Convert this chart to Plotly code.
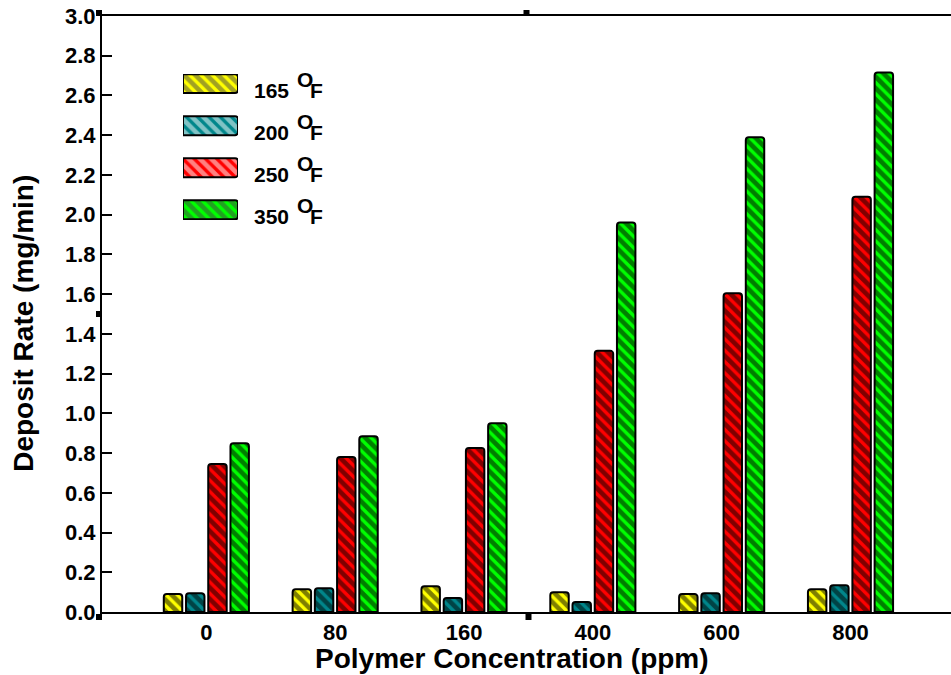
import plotly.graph_objects as go

# ---------------- data ----------------
categories = ["0", "80", "160", "400", "600", "800"]
temps = ["165", "200", "250", "350"]
rate_165 = [0.09, 0.115, 0.13, 0.10, 0.09, 0.115]
rate_200 = [0.095, 0.12, 0.07, 0.05, 0.095, 0.135]
rate_250 = [0.745, 0.78, 0.825, 1.315, 1.605, 2.09]
rate_350 = [0.85, 0.885, 0.95, 1.96, 2.39, 2.715]
series = [rate_165, rate_200, rate_250, rate_350]
colors = ["#FFFF00", "#00868B", "#FF0000", "#00FF00"]
y_ticks = [0.0, 0.2, 0.4, 0.6, 0.8, 1.0, 1.2, 1.4, 1.6, 1.8, 2.0, 2.2, 2.4, 2.6, 2.8, 3.0]
legend_pos = [0, 1, 2, 3]
x_title = "Polymer Concentration (ppm)"
y_title = "Deposit Rate (mg/min)"

FONT = "Liberation Sans, Arial, sans-serif"

fig = go.Figure()
for name, vals, col in zip(temps, series, colors):
    fig.add_trace(go.Bar(
        x=categories, y=vals, name=name + " °F",
        marker=dict(color=col, line=dict(color="black", width=2),
                    pattern=dict(shape="\\", fgcolor="black", bgcolor=col,
                                 size=8, solidity=0.58)),
        showlegend=False,
    ))

# custom legend swatches (wide patterned rectangles)
fig.add_trace(go.Bar(
    x=[1] * len(legend_pos), y=legend_pos, orientation="h", width=0.45,
    marker=dict(color=colors, line=dict(color="black", width=2),
                pattern=dict(shape="\\", fgcolor="black", bgcolor=colors,
                             size=8, solidity=0.58)),
    xaxis="x2", yaxis="y2", showlegend=False, hoverinfo="skip",
))

LF = dict(family=FONT, size=21, color="black", weight="bold")
TF = dict(family=FONT, size=28, color="black", weight="bold")
annotations = []
for i, t in zip(legend_pos, temps):
    base = dict(x=1.25, xref="x2 domain", y=i, yref="y2", showarrow=False,
                xanchor="left", yanchor="middle", font=LF)
    annotations.append(dict(base, text=t, xshift=0, yshift=-7))
    annotations.append(dict(base, text="O", xshift=43, yshift=4))
    annotations.append(dict(base, text="F", xshift=56, yshift=-7))

# axis titles
annotations.append(dict(text=x_title, xref="paper", yref="paper",
                        x=(512 - 102) / 849, y=-(659 - 612.3) / 596.3,
                        xanchor="center", yanchor="middle", showarrow=False, font=TF))
annotations.append(dict(text=y_title, xref="paper", yref="paper", textangle=-90,
                        x=-(102 - 24) / 849, y=(612.3 - 324) / 596.3,
                        xanchor="center", yanchor="middle", showarrow=False, font=TF))

# small square handles
def sq(xa, ya, x0, x1, y0, y1):
    return dict(type="rect", xref="paper", yref="paper", xsizemode="pixel",
                ysizemode="pixel", xanchor=xa, yanchor=ya, x0=x0, x1=x1,
                y0=y0, y1=y1, fillcolor="black", line=dict(width=0))

shapes = [
    sq(0, 0, -6, 0, -8, -2),
    sq(0, 1, -6, 0, 0, 6),
    sq(0, 0.5, -6, 0, -3, 3),
    sq(0.5, 1, -3, 3, 0, 6),
    sq(0.5, 0, -1, 5, -8, -1),
]

fig.update_layout(
    width=951, height=675,
    margin=dict(l=102, r=0, t=16, b=63),
    paper_bgcolor="white", plot_bgcolor="white",
    font=dict(family=FONT, color="black", weight="bold"),
    barmode="group", bargap=0.31, bargroupgap=0.17, barcornerradius=3,
    showlegend=False,
    annotations=annotations,
    shapes=shapes,
    xaxis=dict(
        type="category", range=[-0.81, 5.78],
        showline=True, linecolor="black", linewidth=2, mirror=True,
        ticks="", showgrid=False, zeroline=False,
        tickfont=dict(family=FONT, size=22, color="black", weight="bold"),
    ),
    yaxis=dict(
        range=[0, 3.0], tickvals=y_ticks, tickformat=".1f",
        showline=True, linecolor="black", linewidth=2,
        ticks="inside", ticklen=10, tickwidth=2, tickcolor="black",
        showgrid=False, zeroline=False,
        tickfont=dict(family=FONT, size=22, color="black", weight="bold"),
    ),
    xaxis2=dict(domain=[(183 - 102) / 849, (238 - 102) / 849], range=[0, 1],
                visible=False, anchor="y2", fixedrange=True),
    yaxis2=dict(domain=[(612.3 - 220) / 596.3, (612.3 - 74) / 596.3],
                range=[3.24, -0.23], visible=False, anchor="x2", fixedrange=True),
)

fig.write_html("out.html", config={"displayModeBar": False},
               post_script="document.body.style.margin='0px';")
